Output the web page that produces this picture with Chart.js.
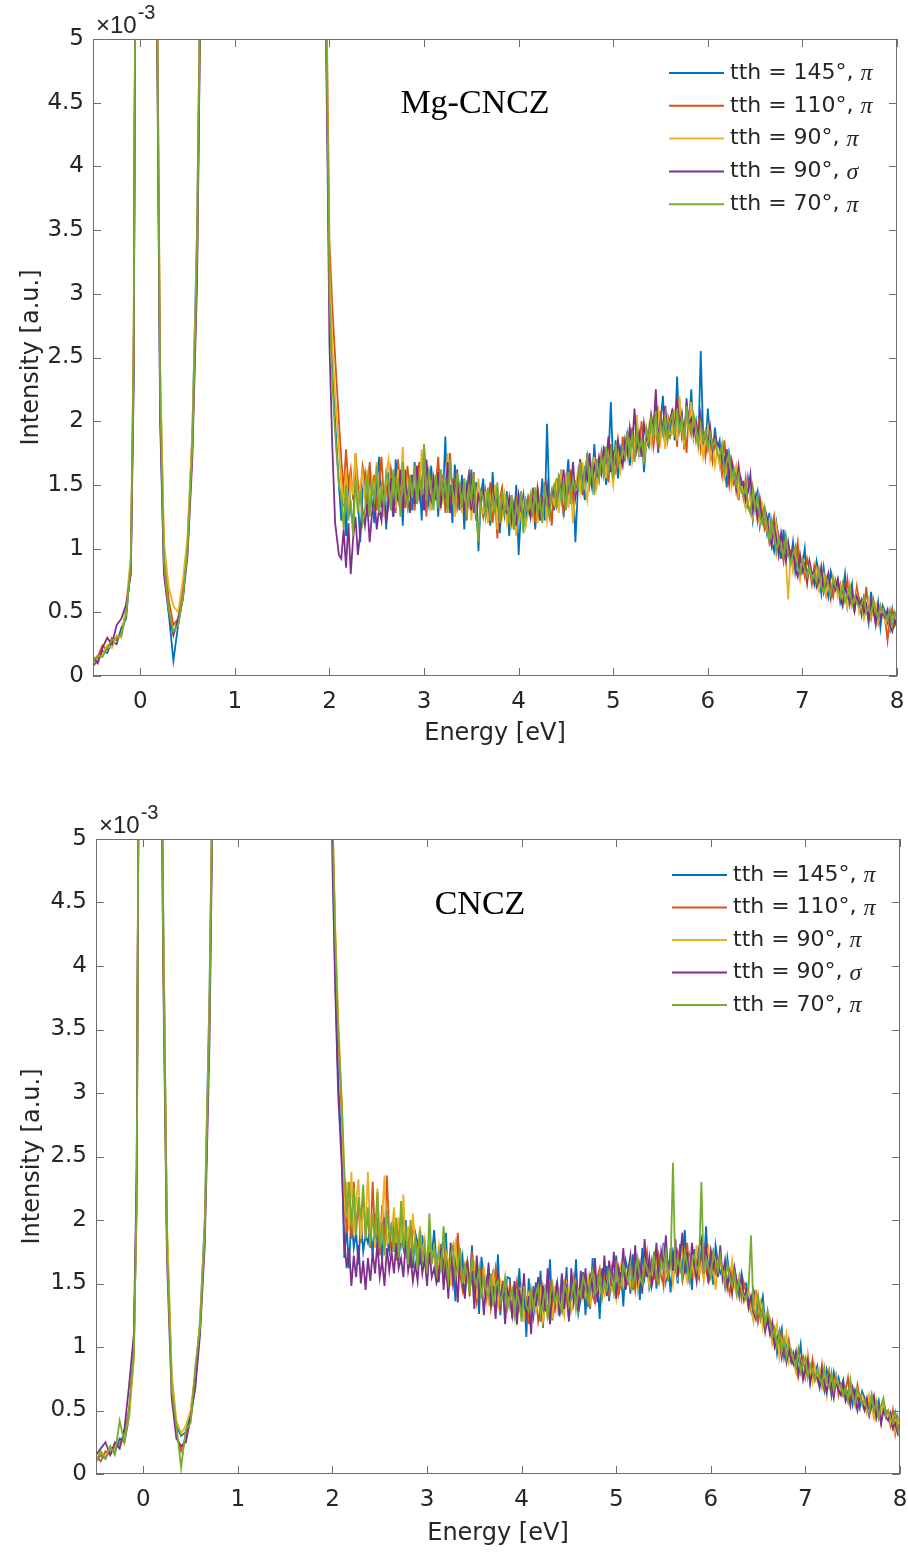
<!DOCTYPE html>
<html>
<head>
<meta charset="utf-8">
<script src="https://cdn.jsdelivr.net/npm/chart.js@4.4.0/dist/chart.umd.min.js"></script>
<style>
  body { margin: 0; background: #fff; width: 908px; height: 1553px; position: relative; overflow: hidden; }
  canvas { position: absolute; left: 0; }
</style>
</head>
<body>
<canvas id="topChart" width="908" height="760" style="top:0"></canvas>
<canvas id="bottomChart" width="908" height="753" style="top:800px"></canvas>
<script>
// energy loss axis [eV]: coarse around the clipped peaks, 0.025 eV above 2.1 eV
const energy = [-0.5,-0.45,-0.4,-0.35,-0.3,-0.25,-0.2,-0.15,-0.1,-0.07,-0.05,-0.03,0,0.1,0.15,0.18,0.21,0.25,0.3,0.35,0.4,0.45,0.5,0.55,0.6,0.65,0.7,0.75,1,1.5,1.9,1.95,1.98,2,2.03,2.06,2.1,
  2.125,2.15,2.175,2.2,2.225,2.25,2.275,2.3,2.325,2.35,
  2.375,2.4,2.425,2.45,2.475,2.5,2.525,2.55,2.575,2.6,
  2.625,2.65,2.675,2.7,2.725,2.75,2.775,2.8,2.825,2.85,
  2.875,2.9,2.925,2.95,2.975,3,3.025,3.05,3.075,3.1,
  3.125,3.15,3.175,3.2,3.225,3.25,3.275,3.3,3.325,3.35,
  3.375,3.4,3.425,3.45,3.475,3.5,3.525,3.55,3.575,3.6,
  3.625,3.65,3.675,3.7,3.725,3.75,3.775,3.8,3.825,3.85,
  3.875,3.9,3.925,3.95,3.975,4,4.025,4.05,4.075,4.1,
  4.125,4.15,4.175,4.2,4.225,4.25,4.275,4.3,4.325,4.35,
  4.375,4.4,4.425,4.45,4.475,4.5,4.525,4.55,4.575,4.6,
  4.625,4.65,4.675,4.7,4.725,4.75,4.775,4.8,4.825,4.85,
  4.875,4.9,4.925,4.95,4.975,5,5.025,5.05,5.075,5.1,
  5.125,5.15,5.175,5.2,5.225,5.25,5.275,5.3,5.325,5.35,
  5.375,5.4,5.425,5.45,5.475,5.5,5.525,5.55,5.575,5.6,
  5.625,5.65,5.675,5.7,5.725,5.75,5.775,5.8,5.825,5.85,
  5.875,5.9,5.925,5.95,5.975,6,6.025,6.05,6.075,6.1,
  6.125,6.15,6.175,6.2,6.225,6.25,6.275,6.3,6.325,6.35,
  6.375,6.4,6.425,6.45,6.475,6.5,6.525,6.55,6.575,6.6,
  6.625,6.65,6.675,6.7,6.725,6.75,6.775,6.8,6.825,6.85,
  6.875,6.9,6.925,6.95,6.975,7,7.025,7.05,7.075,7.1,
  7.125,7.15,7.175,7.2,7.225,7.25,7.275,7.3,7.325,7.35,
  7.375,7.4,7.425,7.45,7.475,7.5,7.525,7.55,7.575,7.6,
  7.625,7.65,7.675,7.7,7.725,7.75,7.775,7.8,7.825,7.85,
  7.875,7.9,7.925,7.95,7.975,8];

const tthAngles = [145, 110, 90, 90, 70];
const polarizations = ['π', 'π', 'π', 'σ', 'π'];
const xTicks = [0, 1, 2, 3, 4, 5, 6, 7, 8];
const yTicks = [0, 0.5, 1, 1.5, 2, 2.5, 3, 3.5, 4, 4.5, 5];

// Mg-CNCZ, intensity in units of 1e-3
const mgTth145pi = [0.08,0.12,0.2,0.18,0.27,0.25,0.38,0.45,0.9,2.4,6,15,30,20,9,5,2.1,0.85,0.5,0.12,0.4,0.62,1.05,1.9,3.5,6.5,12,15,20,20,15,6,4.2,3.0,2.4,2.0,1.5,
  1.22,1.48,1.10,1.55,1.30,1.18,1.62,1.40,1.05,1.45,
  1.58,1.28,1.65,1.35,1.20,1.50,1.72,1.32,1.46,1.15,
  1.60,1.38,1.25,1.70,1.45,1.55,1.18,1.62,1.35,1.52,
  1.30,1.68,1.42,1.58,1.22,1.80,1.48,1.35,1.65,1.40,
  1.55,1.25,1.62,1.40,1.88,1.32,1.50,1.20,1.66,1.44,
  1.30,1.58,1.15,1.48,1.36,1.62,1.28,1.52,0.98,1.40,
  1.55,1.25,1.42,1.18,1.60,1.30,1.48,1.12,1.38,1.26,
  1.45,1.10,1.35,1.22,1.50,0.95,1.30,1.42,1.18,1.38,
  1.25,1.48,1.15,1.40,1.30,1.55,1.22,1.98,1.35,1.45,
  1.30,1.55,1.38,1.62,1.25,1.48,1.70,1.35,1.58,1.05,
  1.45,1.70,1.52,1.38,1.75,1.60,1.48,1.82,1.55,1.65,
  1.58,1.80,1.50,1.72,2.15,1.62,1.85,1.55,1.78,1.68,
  1.70,1.92,1.65,1.88,1.78,2.02,1.72,1.95,1.60,1.85,
  1.80,2.05,1.88,2.15,1.75,1.98,2.20,1.85,2.02,1.90,
  2.10,1.85,2.35,1.92,2.05,1.78,2.18,1.95,2.25,1.88,
  2.00,1.82,2.55,1.90,1.75,2.10,1.85,1.70,1.95,1.78,
  1.85,1.62,1.70,1.48,1.75,1.66,1.52,1.60,1.38,1.55,
  1.48,1.32,1.55,1.40,1.22,1.38,1.45,1.18,1.30,1.25,
  1.12,1.28,1.05,0.98,1.20,1.08,0.92,1.15,0.95,1.02,
  0.90,1.05,0.82,0.95,0.78,0.86,1.00,0.75,0.88,0.80,
  0.72,0.90,0.80,0.65,0.85,0.70,0.62,0.82,0.74,0.68,
  0.75,0.58,0.66,0.80,0.55,0.62,0.72,0.50,0.68,0.60,
  0.48,0.62,0.55,0.42,0.66,0.50,0.45,0.58,0.38,0.55,
  0.50,0.42,0.36,0.52,0.40,0.45];
const mgTth110pi = [0.12,0.15,0.24,0.2,0.3,0.28,0.33,0.5,0.85,2.6,6,15,30,20,9,5.2,2.4,1.0,0.6,0.4,0.45,0.7,1.0,1.8,3.2,6.3,12,15,20,20,15,6.5,4.6,3.4,2.9,2.5,2.0,
  1.70,1.45,1.78,1.50,1.62,1.38,1.75,1.52,1.40,1.65,
  1.55,1.32,1.68,1.42,1.58,1.30,1.50,1.72,1.38,1.48,
  1.35,1.62,1.48,1.28,1.70,1.45,1.55,1.32,1.65,1.40,
  1.58,1.30,1.52,1.68,1.42,1.55,1.25,1.62,1.48,1.38,
  1.50,1.72,1.35,1.58,1.28,1.48,1.75,1.40,1.52,1.32,
  1.45,1.30,1.55,1.22,1.48,1.38,1.60,1.28,1.42,1.35,
  1.25,1.45,1.30,1.52,1.20,1.40,1.08,1.38,1.48,1.28,
  1.35,1.22,1.42,1.15,1.38,1.28,1.45,1.20,1.32,1.40,
  1.28,1.42,1.20,1.48,1.35,1.25,1.52,1.30,1.40,1.18,
  1.50,1.32,1.58,1.40,1.28,1.55,1.45,1.62,1.35,1.52,
  1.48,1.65,1.42,1.60,1.72,1.50,1.62,1.45,1.70,1.55,
  1.75,1.58,1.70,1.52,1.82,1.65,1.60,1.78,1.62,1.88,
  1.72,1.88,1.75,1.95,1.70,1.85,1.78,2.00,1.68,1.82,
  1.85,2.02,1.80,1.95,1.78,2.08,1.90,1.82,2.05,1.88,
  1.92,2.05,1.80,2.12,1.88,1.98,1.75,2.08,1.90,2.02,
  1.85,1.98,1.78,1.92,1.72,1.88,1.80,1.68,1.85,1.75,
  1.72,1.58,1.85,1.65,1.50,1.70,1.62,1.45,1.58,1.52,
  1.40,1.55,1.32,1.28,1.48,1.35,1.22,1.40,1.30,1.15,
  1.20,1.05,1.15,1.25,0.98,1.10,1.02,0.90,1.08,0.95,
  0.98,0.85,0.92,1.05,0.80,0.88,0.78,0.92,0.84,0.72,
  0.86,0.74,0.68,0.82,0.76,0.64,0.80,0.70,0.62,0.75,
  0.66,0.72,0.58,0.62,0.76,0.56,0.65,0.52,0.70,0.58,
  0.56,0.48,0.70,0.52,0.45,0.60,0.50,0.42,0.55,0.48,
  0.44,0.28,0.48,0.52,0.40,0.46];
const mgTth90pi = [0.1,0.13,0.17,0.24,0.22,0.32,0.3,0.55,0.95,2.7,6,15,30,20,9,5.2,2.4,1.05,0.7,0.55,0.5,0.75,1.1,1.9,3.4,6.5,12,15,20,20,15,6.3,4.4,3.2,2.6,2.2,1.8,
  1.50,1.35,1.62,1.28,1.55,1.42,1.75,1.30,1.48,1.60,
  1.38,1.62,1.30,1.55,1.42,1.68,1.35,1.50,1.25,1.58,
  1.70,1.40,1.55,1.32,1.62,1.45,1.80,1.38,1.52,1.28,
  1.55,1.38,1.65,1.42,1.78,1.35,1.50,1.60,1.30,1.58,
  1.42,1.60,1.30,1.52,1.45,1.75,1.35,1.48,1.25,1.55,
  1.50,1.28,1.45,1.35,1.62,1.22,1.48,1.38,1.55,1.30,
  1.28,1.45,1.20,1.40,1.32,1.50,1.15,1.38,1.25,1.42,
  1.22,1.38,1.15,1.32,1.10,1.40,1.25,1.35,1.18,1.28,
  1.40,1.25,1.45,1.20,1.38,1.30,1.48,1.22,1.35,1.42,
  1.35,1.50,1.28,1.62,1.40,1.55,1.32,1.48,1.20,1.45,
  1.60,1.45,1.68,1.50,1.38,1.62,1.55,1.72,1.48,1.58,
  1.62,1.75,1.55,1.80,1.65,1.50,1.72,1.85,1.60,1.70,
  1.85,1.72,1.92,1.68,1.80,2.05,1.75,1.88,1.70,1.82,
  1.95,1.82,2.05,1.88,2.12,1.85,1.98,1.78,2.02,1.90,
  1.90,2.08,1.85,2.20,1.95,1.82,2.05,1.92,2.15,1.88,
  1.95,1.78,1.88,1.72,1.85,1.95,1.70,1.82,1.65,1.78,
  1.65,1.78,1.55,1.62,1.72,1.48,1.58,1.65,1.42,1.50,
  1.45,1.32,1.50,1.38,1.25,1.42,1.30,1.20,1.35,1.28,
  1.15,1.22,1.02,1.10,1.18,0.95,1.05,1.00,0.92,0.60,
  0.95,0.82,0.98,0.88,0.76,0.92,0.85,0.72,0.90,0.80,
  0.78,0.84,0.68,0.75,0.80,0.65,0.72,0.60,0.78,0.70,
  0.62,0.70,0.58,0.66,0.54,0.72,0.60,0.55,0.64,0.50,
  0.58,0.45,0.52,0.60,0.46,0.50,0.56,0.42,0.48,0.52,
  0.42,0.48,0.38,0.46,0.40,0.44];
const mgTth90sigma = [0.15,0.1,0.22,0.3,0.25,0.4,0.45,0.56,0.8,2.3,6,15,30,20,9,4.8,2.0,0.8,0.5,0.32,0.45,0.6,0.95,1.7,3.1,6.2,12,15,20,20,15,5.8,4.0,2.6,1.8,1.2,0.95,
  0.92,1.15,0.85,1.20,0.80,1.08,1.25,0.95,1.12,1.30,
  1.18,1.35,1.05,1.28,1.40,1.15,1.32,1.22,1.45,1.20,
  1.35,1.55,1.25,1.48,1.38,1.62,1.30,1.52,1.42,1.28,
  1.58,1.35,1.65,1.40,1.52,1.30,1.70,1.45,1.38,1.55,
  1.38,1.60,1.32,1.50,1.42,1.68,1.28,1.55,1.40,1.62,
  1.35,1.52,1.28,1.45,1.58,1.30,1.48,1.22,1.42,1.36,
  1.45,1.28,1.40,1.22,1.50,1.32,1.42,1.18,1.35,1.30,
  1.28,1.40,1.22,1.35,1.18,1.42,1.30,1.25,1.38,1.32,
  1.25,1.38,1.30,1.45,1.22,1.40,1.35,1.50,1.28,1.42,
  1.48,1.35,1.55,1.42,1.62,1.38,1.50,1.45,1.68,1.40,
  1.52,1.70,1.48,1.62,1.55,1.75,1.50,1.65,1.58,1.72,
  1.62,1.78,1.70,1.88,1.60,1.75,1.68,1.85,1.72,1.65,
  1.85,1.75,1.95,1.80,2.10,1.78,1.90,1.72,1.98,1.85,
  1.88,2.05,1.92,2.25,1.85,2.00,1.95,2.12,1.88,2.02,
  2.08,1.92,2.18,1.95,2.05,1.88,2.12,1.98,2.02,1.90,
  1.98,1.88,2.05,1.85,1.92,1.80,1.95,1.78,1.88,1.82,
  1.80,1.70,1.62,1.78,1.55,1.68,1.60,1.48,1.65,1.50,
  1.52,1.38,1.45,1.58,1.30,1.40,1.25,1.36,1.22,1.32,
  1.25,1.10,1.02,1.18,1.08,0.95,1.12,1.00,0.90,1.05,
  0.92,1.00,0.84,0.78,0.95,0.82,0.88,0.74,0.90,0.80,
  0.82,0.70,0.76,0.86,0.66,0.74,0.80,0.62,0.72,0.68,
  0.76,0.62,0.55,0.70,0.64,0.58,0.66,0.52,0.62,0.56,
  0.60,0.50,0.56,0.44,0.58,0.52,0.40,0.55,0.46,0.50,
  0.46,0.52,0.40,0.35,0.44,0.38];
const mgTth70pi = [0.12,0.16,0.15,0.22,0.28,0.3,0.32,0.48,0.88,2.5,6,15,30,20,9,5,2.2,0.9,0.52,0.35,0.4,0.62,1.0,1.8,3.3,6.4,12,15,20,20,15,6,4.3,3.0,2.3,1.9,1.5,
  1.42,1.15,1.50,1.22,1.38,1.10,1.55,1.28,1.45,1.20,
  1.30,1.58,1.25,1.50,1.38,1.65,1.28,1.48,1.35,1.60,
  1.52,1.30,1.62,1.38,1.55,1.25,1.68,1.42,1.32,1.58,
  1.40,1.65,1.35,1.55,1.42,1.82,1.38,1.60,1.48,1.30,
  1.58,1.32,1.62,1.40,1.55,1.28,1.70,1.45,1.35,1.58,
  1.50,1.32,1.55,1.25,1.48,1.38,1.58,1.28,1.05,1.45,
  1.40,1.25,1.48,1.22,1.42,1.30,1.52,1.20,1.45,1.28,
  1.38,1.20,1.42,1.15,1.35,1.25,1.45,1.12,1.38,1.30,
  1.42,1.25,1.48,1.28,1.38,1.20,1.50,1.35,1.25,1.45,
  1.50,1.32,1.58,1.38,1.52,1.30,1.60,1.40,1.55,1.45,
  1.48,1.68,1.45,1.62,1.72,1.50,1.65,1.42,1.70,1.55,
  1.72,1.58,1.80,1.62,1.75,1.55,1.82,1.65,1.70,1.78,
  1.72,1.90,1.75,1.88,1.68,1.92,1.78,1.85,1.72,1.95,
  1.85,2.02,1.88,2.08,1.82,1.98,1.90,2.05,1.85,2.00,
  2.05,1.88,2.10,1.92,2.02,1.85,2.12,1.95,1.90,2.05,
  1.95,1.82,1.98,1.85,1.92,1.78,1.90,1.80,1.85,1.75,
  1.70,1.82,1.60,1.68,1.75,1.55,1.62,1.50,1.58,1.45,
  1.42,1.50,1.35,1.28,1.45,1.32,1.40,1.25,1.20,1.32,
  1.18,1.06,1.22,1.12,0.98,1.08,1.02,0.94,1.10,0.96,
  0.88,0.96,1.02,0.85,0.80,0.92,0.84,0.78,0.86,0.76,
  0.80,0.74,0.84,0.70,0.66,0.78,0.72,0.64,0.76,0.70,
  0.68,0.62,0.72,0.58,0.64,0.70,0.55,0.62,0.58,0.54,
  0.56,0.62,0.50,0.54,0.48,0.58,0.52,0.46,0.55,0.50,
  0.48,0.44,0.52,0.40,0.50,0.44];

// CNCZ, intensity in units of 1e-3
const cnTth145pi = [0.1,0.15,0.12,0.2,0.17,0.28,0.25,0.45,1.0,2.1,5.5,12,30,20,10,7.2,4.5,1.9,0.75,0.38,0.3,0.33,0.48,0.78,1.2,2.0,3.8,6.5,20,20,15,9,6.5,5,3.9,3.1,2.5,
  1.70,1.95,1.62,2.05,1.78,1.90,1.65,2.00,1.75,1.88,
  1.82,1.95,1.72,2.05,1.80,1.92,1.68,2.02,1.85,1.75,
  1.98,1.75,1.92,1.68,1.88,1.78,2.00,1.70,1.85,1.62,
  1.90,1.82,1.65,1.88,1.70,1.60,1.85,1.72,1.92,1.65,
  1.51,1.81,1.58,1.90,1.45,1.76,1.63,1.36,1.87,1.58,
  1.71,1.41,1.66,1.48,1.80,1.35,1.59,1.26,1.71,1.53,
  1.37,1.66,1.30,1.61,1.43,1.73,1.25,1.52,1.34,1.55,
  1.54,1.26,1.49,1.18,1.62,1.31,1.44,1.08,1.54,1.36,
  1.24,1.51,1.33,1.60,1.15,1.46,1.39,1.69,1.21,1.42,
  1.51,1.24,1.56,1.33,1.63,1.20,1.45,1.38,1.69,1.27,
  1.38,1.59,1.25,1.52,1.30,1.70,1.34,1.56,1.22,1.62,
  1.46,1.64,1.36,1.59,1.50,1.72,1.41,1.59,1.32,1.68,
  1.60,1.42,1.73,1.50,1.64,1.37,1.78,1.55,1.68,1.46,
  1.52,1.75,1.46,1.70,1.57,1.82,1.52,1.64,1.43,1.75,
  1.68,1.50,1.81,1.59,1.92,1.56,1.70,1.45,1.77,1.63,
  1.55,1.76,1.62,1.95,1.58,1.73,1.49,1.80,1.67,1.58,
  1.62,1.48,1.70,1.55,1.45,1.62,1.52,1.40,1.58,1.48,
  1.50,1.35,1.28,1.45,1.38,1.22,1.32,1.40,1.18,1.25,
  1.18,1.05,1.12,0.95,1.08,1.15,0.92,1.02,0.98,0.88,
  0.95,0.82,0.90,1.02,0.78,0.85,0.92,0.72,0.88,0.80,
  0.85,0.70,0.78,0.66,0.82,0.74,0.62,0.80,0.70,0.76,
  0.68,0.74,0.58,0.64,0.72,0.55,0.66,0.60,0.52,0.65,
  0.60,0.50,0.56,0.62,0.46,0.52,0.58,0.42,0.54,0.48,
  0.50,0.42,0.36,0.48,0.40,0.38];
const cnTth110pi = [0.14,0.1,0.18,0.15,0.22,0.24,0.3,0.52,0.92,2.3,5.5,12,30,20,10,7,4.3,1.9,0.72,0.32,0.18,0.3,0.42,0.72,1.15,1.9,3.6,6.5,20,20,15,9,6.6,5.1,4.2,3.5,2.8,
  2.25,1.90,2.15,1.85,2.30,1.95,2.10,1.82,2.20,1.88,
  2.05,1.78,2.30,1.85,1.98,1.72,2.12,1.80,2.35,1.90,
  1.75,2.02,1.68,1.95,1.82,2.10,1.70,1.88,1.62,1.98,
  1.85,1.62,1.92,1.70,1.80,1.58,1.88,1.68,1.78,1.55,
  1.62,1.78,1.85,1.55,1.48,1.70,1.52,1.62,1.90,1.58,
  1.45,1.60,1.68,1.40,1.75,1.52,1.35,1.48,1.62,1.55,
  1.38,1.55,1.30,1.42,1.62,1.48,1.28,1.50,1.45,1.35,
  1.48,1.22,1.40,1.52,1.30,1.25,1.45,1.38,1.18,1.42,
  1.35,1.42,1.20,1.30,1.48,1.38,1.25,1.52,1.32,1.28,
  1.42,1.30,1.28,1.50,1.38,1.22,1.45,1.55,1.35,1.40,
  1.38,1.52,1.48,1.32,1.58,1.40,1.35,1.55,1.62,1.42,
  1.58,1.45,1.40,1.62,1.52,1.68,1.42,1.50,1.60,1.48,
  1.50,1.65,1.58,1.45,1.70,1.55,1.48,1.62,1.75,1.52,
  1.68,1.55,1.52,1.72,1.60,1.48,1.80,1.58,1.65,1.55,
  1.60,1.75,1.68,1.52,1.62,1.82,1.58,1.55,1.72,1.65,
  1.55,1.70,1.78,1.60,1.52,1.68,1.75,1.58,1.62,1.70,
  1.58,1.65,1.50,1.42,1.60,1.52,1.45,1.55,1.38,1.50,
  1.42,1.30,1.38,1.25,1.45,1.20,1.30,1.22,1.15,1.28,
  1.12,1.20,1.02,1.08,0.95,1.10,0.98,0.90,1.05,0.92,
  0.88,0.95,0.80,0.86,0.92,0.76,0.84,0.78,0.90,0.74,
  0.80,0.72,0.86,0.68,0.75,0.82,0.66,0.72,0.78,0.62,
  0.70,0.62,0.66,0.76,0.58,0.64,0.55,0.70,0.60,0.56,
  0.52,0.60,0.48,0.56,0.62,0.45,0.52,0.40,0.56,0.50,
  0.46,0.38,0.50,0.32,0.44,0.30];
const cnTth90pi = [0.12,0.16,0.14,0.2,0.22,0.22,0.3,0.45,0.9,2.2,5.5,12,30,20,10,7.2,4.4,2.0,0.8,0.42,0.32,0.38,0.5,0.8,1.2,1.95,3.7,6.6,20,20,15,9.2,6.8,5.2,4.3,3.6,2.9,
  2.00,2.30,1.92,2.38,1.88,2.15,2.32,1.85,2.10,1.95,
  2.38,1.88,2.05,1.78,2.25,1.85,2.00,2.35,1.80,1.92,
  1.88,2.10,1.75,2.02,1.82,2.20,1.70,1.95,1.78,2.05,
  1.80,1.65,1.95,1.72,1.85,1.60,1.90,1.70,1.78,1.62,
  1.80,1.62,1.55,1.75,1.68,1.48,1.72,1.82,1.58,1.65,
  1.52,1.50,1.68,1.42,1.58,1.65,1.38,1.55,1.48,1.62,
  1.50,1.35,1.42,1.58,1.40,1.32,1.52,1.45,1.28,1.48,
  1.32,1.45,1.38,1.22,1.40,1.48,1.20,1.35,1.42,1.25,
  1.40,1.28,1.35,1.45,1.20,1.32,1.42,1.38,1.22,1.48,
  1.30,1.45,1.38,1.25,1.50,1.42,1.28,1.35,1.48,1.32,
  1.50,1.38,1.45,1.55,1.35,1.48,1.58,1.40,1.42,1.52,
  1.42,1.55,1.62,1.45,1.50,1.38,1.58,1.65,1.48,1.52,
  1.62,1.48,1.55,1.68,1.45,1.58,1.52,1.70,1.60,1.48,
  1.55,1.62,1.70,1.52,1.58,1.75,1.55,1.60,1.68,1.50,
  1.68,1.55,1.62,1.78,1.60,1.52,1.70,1.65,1.58,1.80,
  1.58,1.65,1.52,1.72,1.78,1.55,1.62,1.45,1.68,1.72,
  1.52,1.60,1.45,1.55,1.68,1.48,1.40,1.55,1.50,1.35,
  1.38,1.45,1.30,1.20,1.40,1.28,1.35,1.15,1.25,1.20,
  1.15,1.02,1.08,1.18,0.92,1.05,0.98,1.10,0.88,0.95,
  0.92,0.80,0.75,0.90,0.84,0.78,0.95,0.82,0.72,0.85,
  0.74,0.82,0.68,0.76,0.62,0.80,0.72,0.66,0.78,0.70,
  0.64,0.70,0.60,0.56,0.72,0.62,0.54,0.66,0.58,0.62,
  0.55,0.48,0.62,0.52,0.44,0.58,0.50,0.46,0.55,0.44,
  0.48,0.40,0.45,0.34,0.42,0.38];
const cnTth90sigma = [0.15,0.2,0.25,0.15,0.25,0.2,0.35,0.7,1.1,2.4,5.5,12,30,20,10,6.8,4.0,1.7,0.6,0.28,0.22,0.25,0.45,0.68,1.1,1.8,3.4,6.3,20,20,15,8.8,6.3,4.8,3.8,3.0,2.4,
  1.85,1.62,1.78,1.48,1.72,1.55,1.80,1.50,1.68,1.45,
  1.70,1.52,1.75,1.58,1.82,1.55,1.68,1.48,1.78,1.60,
  1.75,1.58,1.82,1.62,1.70,1.55,1.85,1.60,1.72,1.52,
  1.65,1.52,1.78,1.58,1.70,1.48,1.75,1.55,1.62,1.50,
  1.55,1.78,1.45,1.70,1.38,1.82,1.50,1.62,1.35,1.75,1.52,
  1.38,1.68,1.45,1.60,1.30,1.72,1.42,1.55,1.25,1.50,
  1.62,1.32,1.48,1.22,1.58,1.35,1.50,1.18,1.45,1.38,
  1.25,1.52,1.18,1.45,1.30,1.58,1.22,1.40,1.10,1.48,
  1.32,1.55,1.20,1.48,1.28,1.62,1.18,1.45,1.35,1.52,
  1.25,1.58,1.30,1.50,1.22,1.62,1.35,1.48,1.28,1.60,
  1.38,1.62,1.32,1.55,1.45,1.70,1.35,1.58,1.42,1.72,
  1.40,1.68,1.48,1.75,1.38,1.62,1.52,1.78,1.45,1.60,
  1.72,1.45,1.80,1.52,1.65,1.42,1.85,1.55,1.70,1.48,
  1.58,1.82,1.50,1.75,1.62,1.88,1.52,1.78,1.60,1.85,
  1.55,1.72,1.90,1.58,1.75,1.50,1.82,1.65,1.52,1.78,
  1.85,1.58,1.80,1.50,1.75,1.62,1.72,1.55,1.80,
  1.55,1.68,1.48,1.58,1.42,1.62,1.50,1.45,1.55,1.38,
  1.45,1.32,1.40,1.28,1.22,1.38,1.25,1.30,1.12,1.22,
  1.10,1.18,1.00,1.06,1.12,0.92,1.02,0.88,0.98,0.90,
  0.86,0.96,0.78,0.88,0.74,0.82,0.90,0.72,0.80,0.76,
  0.76,0.68,0.82,0.72,0.64,0.78,0.70,0.60,0.74,0.66,
  0.62,0.72,0.58,0.64,0.54,0.68,0.60,0.50,0.62,0.56,
  0.50,0.58,0.46,0.54,0.60,0.44,0.52,0.40,0.50,0.45,
  0.42,0.48,0.36,0.40,0.32,0.38];
const cnTth70pi = [0.1,0.18,0.12,0.22,0.15,0.42,0.25,0.5,0.95,2.2,5.5,12,30,20,10,7,4.1,1.8,0.68,0.38,0.05,0.35,0.4,0.85,1.15,1.9,3.6,6.4,20,20,15,9,6.6,5.2,4.2,3.5,2.9,
  2.40,2.05,2.30,1.95,2.25,1.88,2.18,2.00,2.28,1.85,
  2.10,1.80,2.05,1.85,2.22,1.78,1.98,1.72,2.08,1.85,
  1.95,1.75,2.02,1.70,2.15,1.78,1.92,1.65,2.00,1.72,
  1.85,1.62,1.92,1.68,1.80,1.58,2.05,1.65,1.78,1.60,
  1.75,1.60,1.95,1.68,1.52,1.72,1.80,1.55,1.62,1.78,
  1.50,1.65,1.58,1.42,1.70,1.55,1.48,1.62,1.38,1.55,
  1.45,1.40,1.58,1.32,1.48,1.52,1.35,1.42,1.55,1.30,
  1.38,1.45,1.25,1.42,1.35,1.20,1.48,1.32,1.28,1.45,
  1.30,1.42,1.48,1.25,1.35,1.45,1.22,1.40,1.50,1.35,
  1.42,1.35,1.28,1.50,1.45,1.32,1.38,1.52,1.30,1.45,
  1.40,1.55,1.48,1.35,1.52,1.60,1.42,1.45,1.58,1.38,
  1.52,1.45,1.60,1.55,1.42,1.62,1.50,1.48,1.65,1.58,
  1.52,1.65,1.48,1.58,1.70,1.55,1.50,1.68,1.62,1.55,
  1.60,1.72,1.55,1.50,1.68,1.62,1.75,1.55,1.65,2.45,
  1.58,1.70,1.62,1.55,1.75,1.65,1.52,1.68,1.72,1.60,
  1.65,2.30,1.58,1.70,1.62,1.55,1.75,1.68,1.60,1.72,
  1.60,1.50,1.65,1.55,1.48,1.58,1.42,1.52,1.45,1.40,
  1.38,1.48,1.88,1.30,1.25,1.40,1.22,1.32,1.18,1.28,
  1.22,1.08,1.15,1.00,1.12,0.96,1.06,0.92,1.02,0.98,
  0.90,0.84,0.98,0.80,0.88,0.92,0.76,0.86,0.80,0.74,
  0.82,0.76,0.70,0.84,0.72,0.68,0.80,0.66,0.74,0.70,
  0.70,0.62,0.68,0.58,0.74,0.60,0.56,0.66,0.62,0.55,
  0.58,0.52,0.48,0.62,0.50,0.56,0.44,0.54,0.60,0.46,
  0.50,0.44,0.40,0.48,0.36,0.28];

const seriesColors = ['#0072BD', '#D95319', '#EDB120', '#7E2F8E', '#77AC30'];
const axisColor = '#6e6e6e';
const textColor = '#262626';
const sansFont = "'DejaVu Sans', sans-serif";
const serifFont = "'Liberation Serif', 'Times New Roman', serif";

// box, inward ticks, exponent, panel title and legend
const panelDecor = {
  id: 'panelDecor',
  afterDatasetsDraw(chart, args, o) {
    const { ctx, chartArea: a, scales: { x, y } } = chart;
    ctx.save();
    ctx.strokeStyle = axisColor;
    ctx.lineWidth = 1;
    ctx.strokeRect(a.left + 0.5, a.top + 0.5, a.width - 1, a.height - 1);
    ctx.beginPath();
    xTicks.forEach(v => {
      const px = Math.round(x.getPixelForValue(v)) + 0.5;
      ctx.moveTo(px, a.bottom); ctx.lineTo(px, a.bottom - 8);
      ctx.moveTo(px, a.top); ctx.lineTo(px, a.top + 8);
    });
    yTicks.forEach(v => {
      const py = Math.round(y.getPixelForValue(v)) + 0.5;
      ctx.moveTo(a.left, py); ctx.lineTo(a.left + 8, py);
      ctx.moveTo(a.right, py); ctx.lineTo(a.right - 8, py);
    });
    ctx.stroke();

    // x10^-3 multiplier
    ctx.fillStyle = textColor;
    ctx.textBaseline = 'alphabetic';
    ctx.textAlign = 'left';
    ctx.font = "24px 'Liberation Sans', Arial, sans-serif";
    ctx.fillText('×10', a.left + 3, a.top - 6);
    const w = ctx.measureText('×10').width;
    ctx.font = "20px 'Liberation Sans', Arial, sans-serif";
    ctx.fillText('-3', a.left + 4 + w, a.top - 20);

    // panel title
    ctx.fillStyle = '#000';
    ctx.textAlign = 'center';
    ctx.font = '34px ' + serifFont;
    ctx.fillText(o.title, o.titleX, o.titleY);

    // legend
    ctx.textAlign = 'left';
    ctx.textBaseline = 'middle';
    chart.data.datasets.forEach((ds, i) => {
      const ry = o.legendY + i * o.legendStep;
      ctx.strokeStyle = ds.borderColor;
      ctx.lineWidth = 2;
      ctx.beginPath();
      ctx.moveTo(o.legendX, ry);
      ctx.lineTo(o.legendX + 55, ry);
      ctx.stroke();
      ctx.fillStyle = textColor;
      ctx.font = '22px ' + sansFont;
      const prefix = 'tth = ' + tthAngles[i] + '°, ';
      ctx.fillText(prefix, o.legendX + 61, ry);
      const pw = ctx.measureText(prefix).width;
      ctx.font = 'italic 24px ' + serifFont;
      ctx.fillText(polarizations[i], o.legendX + 61 + pw, ry + 1);
    });
    ctx.restore();
  }
};

function makePanel(canvasId, series, layout) {
  const datasets = series.map((values, i) => ({
    label: 'tth = ' + tthAngles[i] + '°, ' + polarizations[i],
    data: energy.map((e, j) => ({ x: e, y: values[j] })),
    borderColor: seriesColors[i],
    borderWidth: 1.8,
    pointRadius: 0,
    tension: 0,
    fill: false,
    order: series.length - i
  }));

  return new Chart(document.getElementById(canvasId), {
    type: 'line',
    data: { datasets: datasets },
    options: {
      responsive: false,
      animation: false,
      devicePixelRatio: 1,
      layout: { padding: { left: 0, top: 39, right: layout.right, bottom: 0 } },
      plugins: {
        legend: { display: false },
        tooltip: { enabled: false },
        panelDecor: layout.decor
      },
      scales: {
        x: {
          type: 'linear',
          min: -0.5,
          max: 8,
          afterBuildTicks: s => { s.ticks = xTicks.map(v => ({ value: v })); },
          afterFit: s => { s.height = layout.xHeight; s.paddingLeft = 0; s.paddingRight = 0; },
          grid: { display: false, drawTicks: false },
          border: { display: false },
          ticks: { color: textColor, font: { family: sansFont, size: 23 }, padding: 12, maxRotation: 0, autoSkip: false },
          title: { display: true, text: 'Energy [eV]', color: textColor, font: { family: sansFont, size: 24 }, padding: { top: 4, bottom: layout.xTitlePad } }
        },
        y: {
          min: 0,
          max: 5,
          afterBuildTicks: s => { s.ticks = yTicks.map(v => ({ value: v })); },
          afterFit: s => { s.width = layout.left; s.paddingTop = 0; s.paddingBottom = 0; },
          grid: { display: false, drawTicks: false },
          border: { display: false },
          ticks: { color: textColor, font: { family: sansFont, size: 23 }, padding: 9, autoSkip: false, callback: v => String(v) },
          title: { display: true, text: 'Intensity [a.u.]', color: textColor, font: { family: sansFont, size: 24 }, padding: { top: layout.yTitlePad, bottom: 4 } }
        }
      }
    },
    plugins: [panelDecor]
  });
}

makePanel('topChart', [mgTth145pi, mgTth110pi, mgTth90pi, mgTth90sigma, mgTth70pi], {
  left: 93, right: 11, xHeight: 84, xTitlePad: 12, yTitlePad: 17,
  decor: { title: 'Mg-CNCZ', titleX: 475, titleY: 113, legendX: 669, legendY: 73, legendStep: 32.8 }
});

makePanel('bottomChart', [cnTth145pi, cnTth110pi, cnTth90pi, cnTth90sigma, cnTth70pi], {
  left: 96, right: 8, xHeight: 79, xTitlePad: 5, yTitlePad: 18,
  decor: { title: 'CNCZ', titleX: 480, titleY: 114, legendX: 672, legendY: 75, legendStep: 32.5 }
});
</script>
</body>
</html>
